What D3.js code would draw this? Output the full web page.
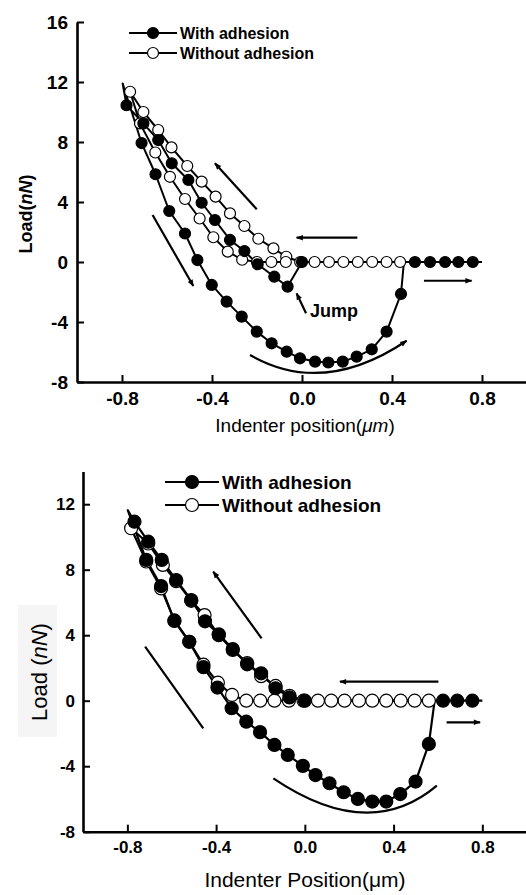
<!DOCTYPE html>
<html>
<head>
<meta charset="utf-8">
<script src="https://cdn.jsdelivr.net/npm/d3@7"></script>
<style>
body { margin: 0; background: #fff; }
svg { display: block; font-family: "Liberation Sans", Arial, sans-serif; }
</style>
</head>
<body>
<svg id="chart" width="526" height="895"></svg>
<script>
// shared tick labels
let xTicks = [-0.8, -0.4, 0.0, 0.4, 0.8];
let yTicksTop = [-8, -4, 0, 4, 8, 12, 16];
let yTicksBottom = [-8, -4, 0, 4, 8, 12];
let seriesNames = ["With adhesion", "Without adhesion"];

// points are [position (um), load (nN)], a third 0 means line vertex only (no marker)
// upper plot
let withAdhesionA = [
  [0.80, 0, 0], [0.759, 0], [0.695, 0], [0.636, 0], [0.569, 0], [0.502, 0], [0.0, 0],
  [-0.064, -1.64], [-0.123, -0.98], [-0.197, -0.15], [-0.256, 0.73], [-0.320, 1.47],
  [-0.387, 2.80], [-0.446, 3.95], [-0.505, 5.47], [-0.579, 6.58], [-0.639, 8.13],
  [-0.705, 9.24], [-0.780, 10.45], [-0.797, 11.9, 0],
  [-0.713, 7.93], [-0.651, 5.85], [-0.590, 3.40], [-0.520, 1.90], [-0.465, 0.13],
  [-0.401, -1.53], [-0.335, -2.64], [-0.268, -3.64], [-0.201, -4.64], [-0.135, -5.42],
  [-0.068, -5.98], [-0.009, -6.42], [0.058, -6.64], [0.117, -6.70], [0.181, -6.64],
  [0.243, -6.31], [0.310, -5.82], [0.376, -4.64], [0.440, -2.13], [0.453, 0, 0]
];
let withoutAdhesionA = [
  [0.436, 0], [0.376, 0], [0.312, 0], [0.248, 0], [0.184, 0], [0.120, 0], [0.056, 0], [-0.008, 0],
  [-0.070, 0.35], [-0.127, 0.91], [-0.194, 1.55], [-0.256, 2.40], [-0.320, 3.24], [-0.384, 4.36],
  [-0.446, 5.36], [-0.510, 6.40], [-0.580, 7.64], [-0.639, 8.80], [-0.705, 10.0], [-0.764, 11.35],
  [-0.720, 9.24], [-0.652, 7.30], [-0.587, 5.68], [-0.520, 4.20], [-0.455, 2.90], [-0.394, 1.65],
  [-0.330, 0.69], [-0.266, 0.15], [-0.200, 0], [-0.136, 0], [-0.072, 0]
];

// lower plot
let withAdhesionB = [
  [0.80, 0, 0], [0.755, 0], [0.687, 0], [0.623, 0], [0.0, 0],
  [-0.069, 0.2], [-0.132, 0.76], [-0.197, 1.67], [-0.260, 2.22], [-0.325, 3.15], [-0.388, 4.05],
  [-0.450, 4.85], [-0.512, 6.15], [-0.580, 7.37], [-0.645, 8.60], [-0.706, 9.71], [-0.768, 10.93],
  [-0.798, 11.63, 0],
  [-0.715, 8.60], [-0.648, 7.00], [-0.588, 4.87], [-0.521, 3.60], [-0.457, 2.05], [-0.394, 0.80],
  [-0.330, -0.46], [-0.264, -1.28], [-0.202, -1.92], [-0.137, -2.70], [-0.077, -3.31],
  [-0.009, -3.98], [0.048, -4.54], [0.111, -5.04], [0.175, -5.59], [0.239, -6.00], [0.304, -6.16],
  [0.367, -6.16], [0.430, -5.70], [0.499, -4.94], [0.559, -2.64], [0.585, 0, 0]
];
let withoutAdhesionB = [
  [0.559, 0], [0.495, 0], [0.432, 0], [0.367, 0], [0.304, 0], [0.244, 0], [0.179, 0], [0.119, 0],
  [0.059, 0], [-0.006, 0],
  [-0.069, 0.3], [-0.132, 0.9], [-0.197, 1.5], [-0.260, 2.3], [-0.325, 3.1], [-0.388, 4.0],
  [-0.452, 5.23], [-0.512, 6.1], [-0.580, 7.3], [-0.640, 8.29], [-0.706, 9.6], [-0.783, 10.53],
  [-0.715, 8.5], [-0.648, 6.86], [-0.588, 4.9], [-0.521, 3.6], [-0.457, 2.2], [-0.392, 1.1],
  [-0.328, 0.35], [-0.264, 0], [-0.201, 0], [-0.137, 0], [-0.072, 0]
];

// direction arrows in data units: [x1, y1, x2, y2, head]
let arrowsA = [
  [-0.201, 3.51, -0.387, 6.58, 1],
  [-0.664, 3.13, -0.483, -1.60, 1],
  [0.246, 1.62, -0.024, 1.62, 1],
  [0.542, -1.25, 0.754, -1.25, 1],
  [0.018, -3.42, -0.024, -2.09, 1]
];
let sweepA = [[-0.231, -6.2], [0.093, -9.0], [0.465, -5.25]];
let arrowsB = [
  [-0.195, 3.81, -0.413, 7.88, 1],
  [-0.720, 3.30, -0.458, -1.69, 0],
  [0.602, 1.16, 0.158, 1.16, 1],
  [0.639, -1.32, 0.790, -1.32, 1]
];
let sweepB = [[-0.142, -4.74], [0.289, -8.69], [0.595, -5.19]];

let svg = d3.select("#chart");

svg.append("defs").append("marker")
    .attr("id", "head")
    .attr("viewBox", "0 0 10 10")
    .attr("refX", 9).attr("refY", 5)
    .attr("markerUnits", "userSpaceOnUse")
    .attr("markerWidth", 9).attr("markerHeight", 7)
    .attr("orient", "auto")
  .append("path")
    .attr("d", "M0,1L10,5L0,9Z")
    .attr("fill", "#000");

function drawPanel(p) {
  let x = d3.scaleLinear().domain([-1, 1]).range([p.left, p.right]);
  let y = d3.scaleLinear().domain(p.yDomain).range([p.bottom, p.top]);
  let g = svg.append("g");

  let xAxis = g.append("g")
      .attr("transform", "translate(0," + p.bottom + ")")
      .call(d3.axisBottom(x).tickValues(xTicks).tickSizeInner(-7).tickSizeOuter(0)
        .tickPadding(p.xPad).tickFormat(d => d.toFixed(1)));
  let yAxis = g.append("g")
      .attr("transform", "translate(" + p.left + ",0)")
      .call(d3.axisLeft(y).tickValues(p.yTicks).tickSizeInner(-7).tickSizeOuter(0)
        .tickPadding(p.yPad).tickFormat(d => String(d)));

  [xAxis, yAxis].forEach(a => {
    a.attr("font-family", null).attr("font-size", p.tickFont).attr("font-weight", "bold");
    a.select(".domain").attr("stroke-width", 2.6);
    a.selectAll(".tick line").attr("stroke-width", 2);
    a.selectAll(".tick text").attr("fill", "#000");
  });

  let line = d3.line().x(d => x(d[0])).y(d => y(d[1]));

  // lines first, then hollow markers, then solid markers on top
  [p.open, p.filled].forEach(s => {
    g.append("path")
      .attr("d", line(s))
      .attr("fill", "none")
      .attr("stroke", "#000")
      .attr("stroke-width", p.lineW)
      .attr("stroke-linejoin", "round");
  });
  [[p.open, "#fff"], [p.filled, "#000"]].forEach(([s, fill]) => {
    g.selectAll(null)
      .data(s.filter(d => d.length < 3))
      .enter().append("circle")
        .attr("cx", d => x(d[0]))
        .attr("cy", d => y(d[1]))
        .attr("r", p.r)
        .attr("fill", fill)
        .attr("stroke", "#000")
        .attr("stroke-width", 1.2);
  });

  // direction arrows
  p.arrows.forEach(a => {
    g.append("line")
      .attr("x1", x(a[0])).attr("y1", y(a[1]))
      .attr("x2", x(a[2])).attr("y2", y(a[3]))
      .attr("stroke", "#000")
      .attr("stroke-width", 2.2)
      .attr("marker-end", a[4] ? "url(#head)" : null);
  });
  let s = p.sweep;
  g.append("path")
    .attr("d", "M" + x(s[0][0]) + "," + y(s[0][1]) + "Q" + x(s[1][0]) + "," + y(s[1][1]) +
      " " + x(s[2][0]) + "," + y(s[2][1]))
    .attr("fill", "none")
    .attr("stroke", "#000")
    .attr("stroke-width", 2.2)
    .attr("marker-end", p.sweepHead ? "url(#head)" : null);

  // legend
  let L = p.legend;
  [[p.filled, "#000"], [p.open, "#fff"]].forEach(([s, fill], i) => {
    let ly = L.ys[i];
    g.append("line")
      .attr("x1", L.x1).attr("x2", L.x2).attr("y1", ly).attr("y2", ly)
      .attr("stroke", "#000").attr("stroke-width", p.lineW);
    g.append("circle")
      .attr("cx", (L.x1 + L.x2) / 2).attr("cy", ly).attr("r", p.r)
      .attr("fill", fill).attr("stroke", "#000").attr("stroke-width", 1.2);
    g.append("text")
      .attr("x", L.tx).attr("y", ly + L.fs * 0.36)
      .attr("font-size", L.fs).attr("font-weight", "bold")
      .text(seriesNames[i]);
  });

  return {x: x, y: y, g: g};
}

// upper plot
let a = drawPanel({
  left: 77, right: 527, top: 22, bottom: 382, yDomain: [-8, 16], yTicks: yTicksTop,
  xPad: 9.5, yPad: 9, tickFont: 19, lineW: 2, r: 5.5,
  filled: withAdhesionA, open: withoutAdhesionA,
  arrows: arrowsA, sweep: sweepA, sweepHead: true,
  legend: {x1: 129, x2: 177, ys: [33, 53], tx: 180, fs: 16}
});
a.g.append("text")
  .attr("x", a.x(0.036)).attr("y", a.y(-3.67))
  .attr("font-size", 18).attr("font-weight", "bold")
  .text("Jump");
let ylabA = a.g.append("text")
  .attr("transform", "translate(32,214) rotate(-90)")
  .attr("text-anchor", "middle")
  .attr("font-size", 18).attr("font-weight", "bold");
ylabA.append("tspan").text("Load(");
ylabA.append("tspan").attr("font-style", "italic").text("nN");
ylabA.append("tspan").text(")");
let xlabA = a.g.append("text")
  .attr("x", 305).attr("y", 432)
  .attr("text-anchor", "middle")
  .attr("font-size", 19);
xlabA.append("tspan").text("Indenter position(");
xlabA.append("tspan").attr("font-style", "italic").text("\u03bcm");
xlabA.append("tspan").text(")");

// lower plot
svg.append("rect")
  .attr("x", 18).attr("y", 605).attr("width", 39).attr("height", 132)
  .attr("fill", "#f5f5f5");
let b = drawPanel({
  left: 83, right: 526.7, top: 471.45, bottom: 831.7, yDomain: [-8, 14], yTicks: yTicksBottom,
  xPad: 9.7, yPad: 8, tickFont: 17, lineW: 2.2, r: 6.5,
  filled: withAdhesionB, open: withoutAdhesionB,
  arrows: arrowsB, sweep: sweepB, sweepHead: false,
  legend: {x1: 165, x2: 219, ys: [482, 505], tx: 222, fs: 19}
});
let ylabB = b.g.append("text")
  .attr("transform", "translate(47,672) rotate(-90)")
  .attr("text-anchor", "middle")
  .attr("font-size", 22);
ylabB.append("tspan").text("Load (");
ylabB.append("tspan").attr("font-style", "italic").text("nN");
ylabB.append("tspan").text(")");
b.g.append("text")
  .attr("x", 305).attr("y", 887)
  .attr("text-anchor", "middle")
  .attr("font-size", 21)
  .text("Indenter Position(\u03bcm)");
</script>
</body>
</html>
